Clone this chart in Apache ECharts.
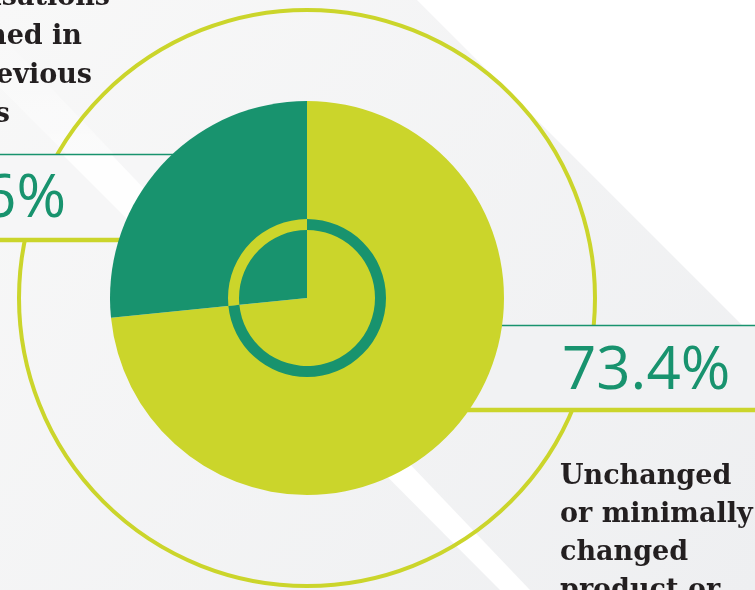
<!DOCTYPE html>
<html>
<head>
<meta charset="utf-8">
<script src="https://cdn.jsdelivr.net/npm/echarts@6/dist/echarts.min.js"></script>
<style>
  html, body { margin: 0; padding: 0; background: #f3f4f5; }
  #chart-container { width: 755px; height: 590px; }
</style>
</head>
<body>
<div id="chart-container"></div>
<script>
var sliceNames = ["Unchanged or minimally changed", "New or significantly changed"];
var sliceValues = [73.4, 26.6];
var rightLines = ["Unchanged", "or minimally", "changed", "product or"];
var leftLines = ["Organisations", "launched in", "the previous", "3 years"];

var YELLOW = "#cbd52b";
var GREEN = "#18936e";
var INK = "#231f20";
var CX = 307, CY = 298;

var dom = document.getElementById("chart-container");
var myChart = echarts.init(dom, null, { renderer: "canvas" });

var pieData = sliceNames.map(function (n, i) {
  return { name: n, value: sliceValues[i], itemStyle: { color: i === 0 ? YELLOW : GREEN } };
});
var ringData = sliceNames.map(function (n, i) {
  return { name: n, value: sliceValues[i], itemStyle: { color: i === 0 ? GREEN : YELLOW } };
});

function pct(v) { return v.toFixed(1) + "%"; }

// baseline helper: middle-aligned text sits ~0.33em above baseline
function textEl(str, x, base, size, opts) {
  return {
    type: "text", z: 20, silent: true,
    style: {
      text: str, x: x, y: base - size * 0.33,
      font: (opts.weight || "bold") + " " + size + "px " + (opts.family || "DejaVu Serif"),
      fill: opts.fill || INK, align: opts.align || "left", verticalAlign: "middle"
    }
  };
}

var graphics = [
  { type: "rect", z: 0, silent: true, shape: { x: 0, y: 0, width: 755, height: 590 },
    style: { fill: new echarts.graphic.LinearGradient(0, 0, 1, 1, [
      { offset: 0, color: "#f8f8f8" }, { offset: 1, color: "#eeeff1" }]) } },
  { type: "polygon", z: 1, silent: true, shape: { points: [[417, 0], [755, 0], [755, 338]] },
    style: { fill: "#ffffff" } },
  { type: "polygon", z: 1, silent: true,
    shape: { points: [[-87, 0], [-33, 0], [530, 590], [500, 590]] },
    style: { fill: new echarts.graphic.LinearGradient(0, 0, 0, 1, [
      { offset: 0, color: "rgba(255,255,255,0)" }, { offset: 0.26, color: "rgba(255,255,255,0.5)" },
      { offset: 0.5, color: "rgba(255,255,255,1)" }, { offset: 1, color: "#ffffff" }]) } },
  { type: "circle", z: 2, silent: true, shape: { cx: CX, cy: CY, r: 288 },
    style: { fill: null, stroke: YELLOW, lineWidth: 4 } },
  // label boxes behind the pie
  { type: "rect", z: 3, silent: true, shape: { x: 0, y: 154, width: CX, height: 86 },
    style: { fill: "#f6f6f7" } },
  { type: "polygon", z: 4, silent: true,
    shape: { points: [[62, 154], [111, 154], [193, 240], [148, 240]] },
    style: { fill: "rgba(255,255,255,0.85)" } },
  { type: "rect", z: 3, silent: true, shape: { x: CX, y: 325, width: 755 - CX, height: 85 },
    style: { fill: "#f1f2f3" } },
  { type: "line", z: 5, silent: true, shape: { x1: 0, y1: 154.5, x2: CX, y2: 154.5 },
    style: { stroke: GREEN, lineWidth: 1.5 } },
  { type: "line", z: 5, silent: true, shape: { x1: 0, y1: 240, x2: CX, y2: 240 },
    style: { stroke: YELLOW, lineWidth: 4.5 } },
  { type: "line", z: 5, silent: true, shape: { x1: CX, y1: 325.5, x2: 755, y2: 325.5 },
    style: { stroke: GREEN, lineWidth: 1.5 } },
  { type: "line", z: 5, silent: true, shape: { x1: CX, y1: 410, x2: 755, y2: 410 },
    style: { stroke: YELLOW, lineWidth: 4.5 } },
  textEl(pct(sliceValues[0]), 562, 392, 60, { family: "Open Sans", weight: "500", fill: GREEN }),
  textEl(pct(sliceValues[1]), 66, 220, 60, { family: "Open Sans", weight: "500", fill: GREEN, align: "right" })
];

var rightBases = [486, 524, 562, 600];
rightLines.forEach(function (t, i) { graphics.push(textEl(t, 560, rightBases[i], 27, {})); });
var leftEnds = [110, 82, 92, 10];
var leftBases = [7, 46, 85, 124];
leftLines.forEach(function (t, i) { graphics.push(textEl(t, leftEnds[i], leftBases[i], 27, { align: "right" })); });

var option = {
  animation: false,
  graphic: { elements: graphics },
  series: [
    {
      type: "pie", z: 10, silent: true, center: [CX, CY], radius: [0, 197],
      startAngle: 90, clockwise: true, label: { show: false }, labelLine: { show: false },
      itemStyle: { borderWidth: 0 }, data: pieData
    },
    {
      type: "pie", z: 11, silent: true, center: [CX, CY], radius: [68, 79],
      startAngle: 90, clockwise: true, label: { show: false }, labelLine: { show: false },
      itemStyle: { borderWidth: 0 }, data: ringData
    }
  ]
};

myChart.setOption(option);
window.addEventListener("resize", myChart.resize);
</script>
</body>
</html>
